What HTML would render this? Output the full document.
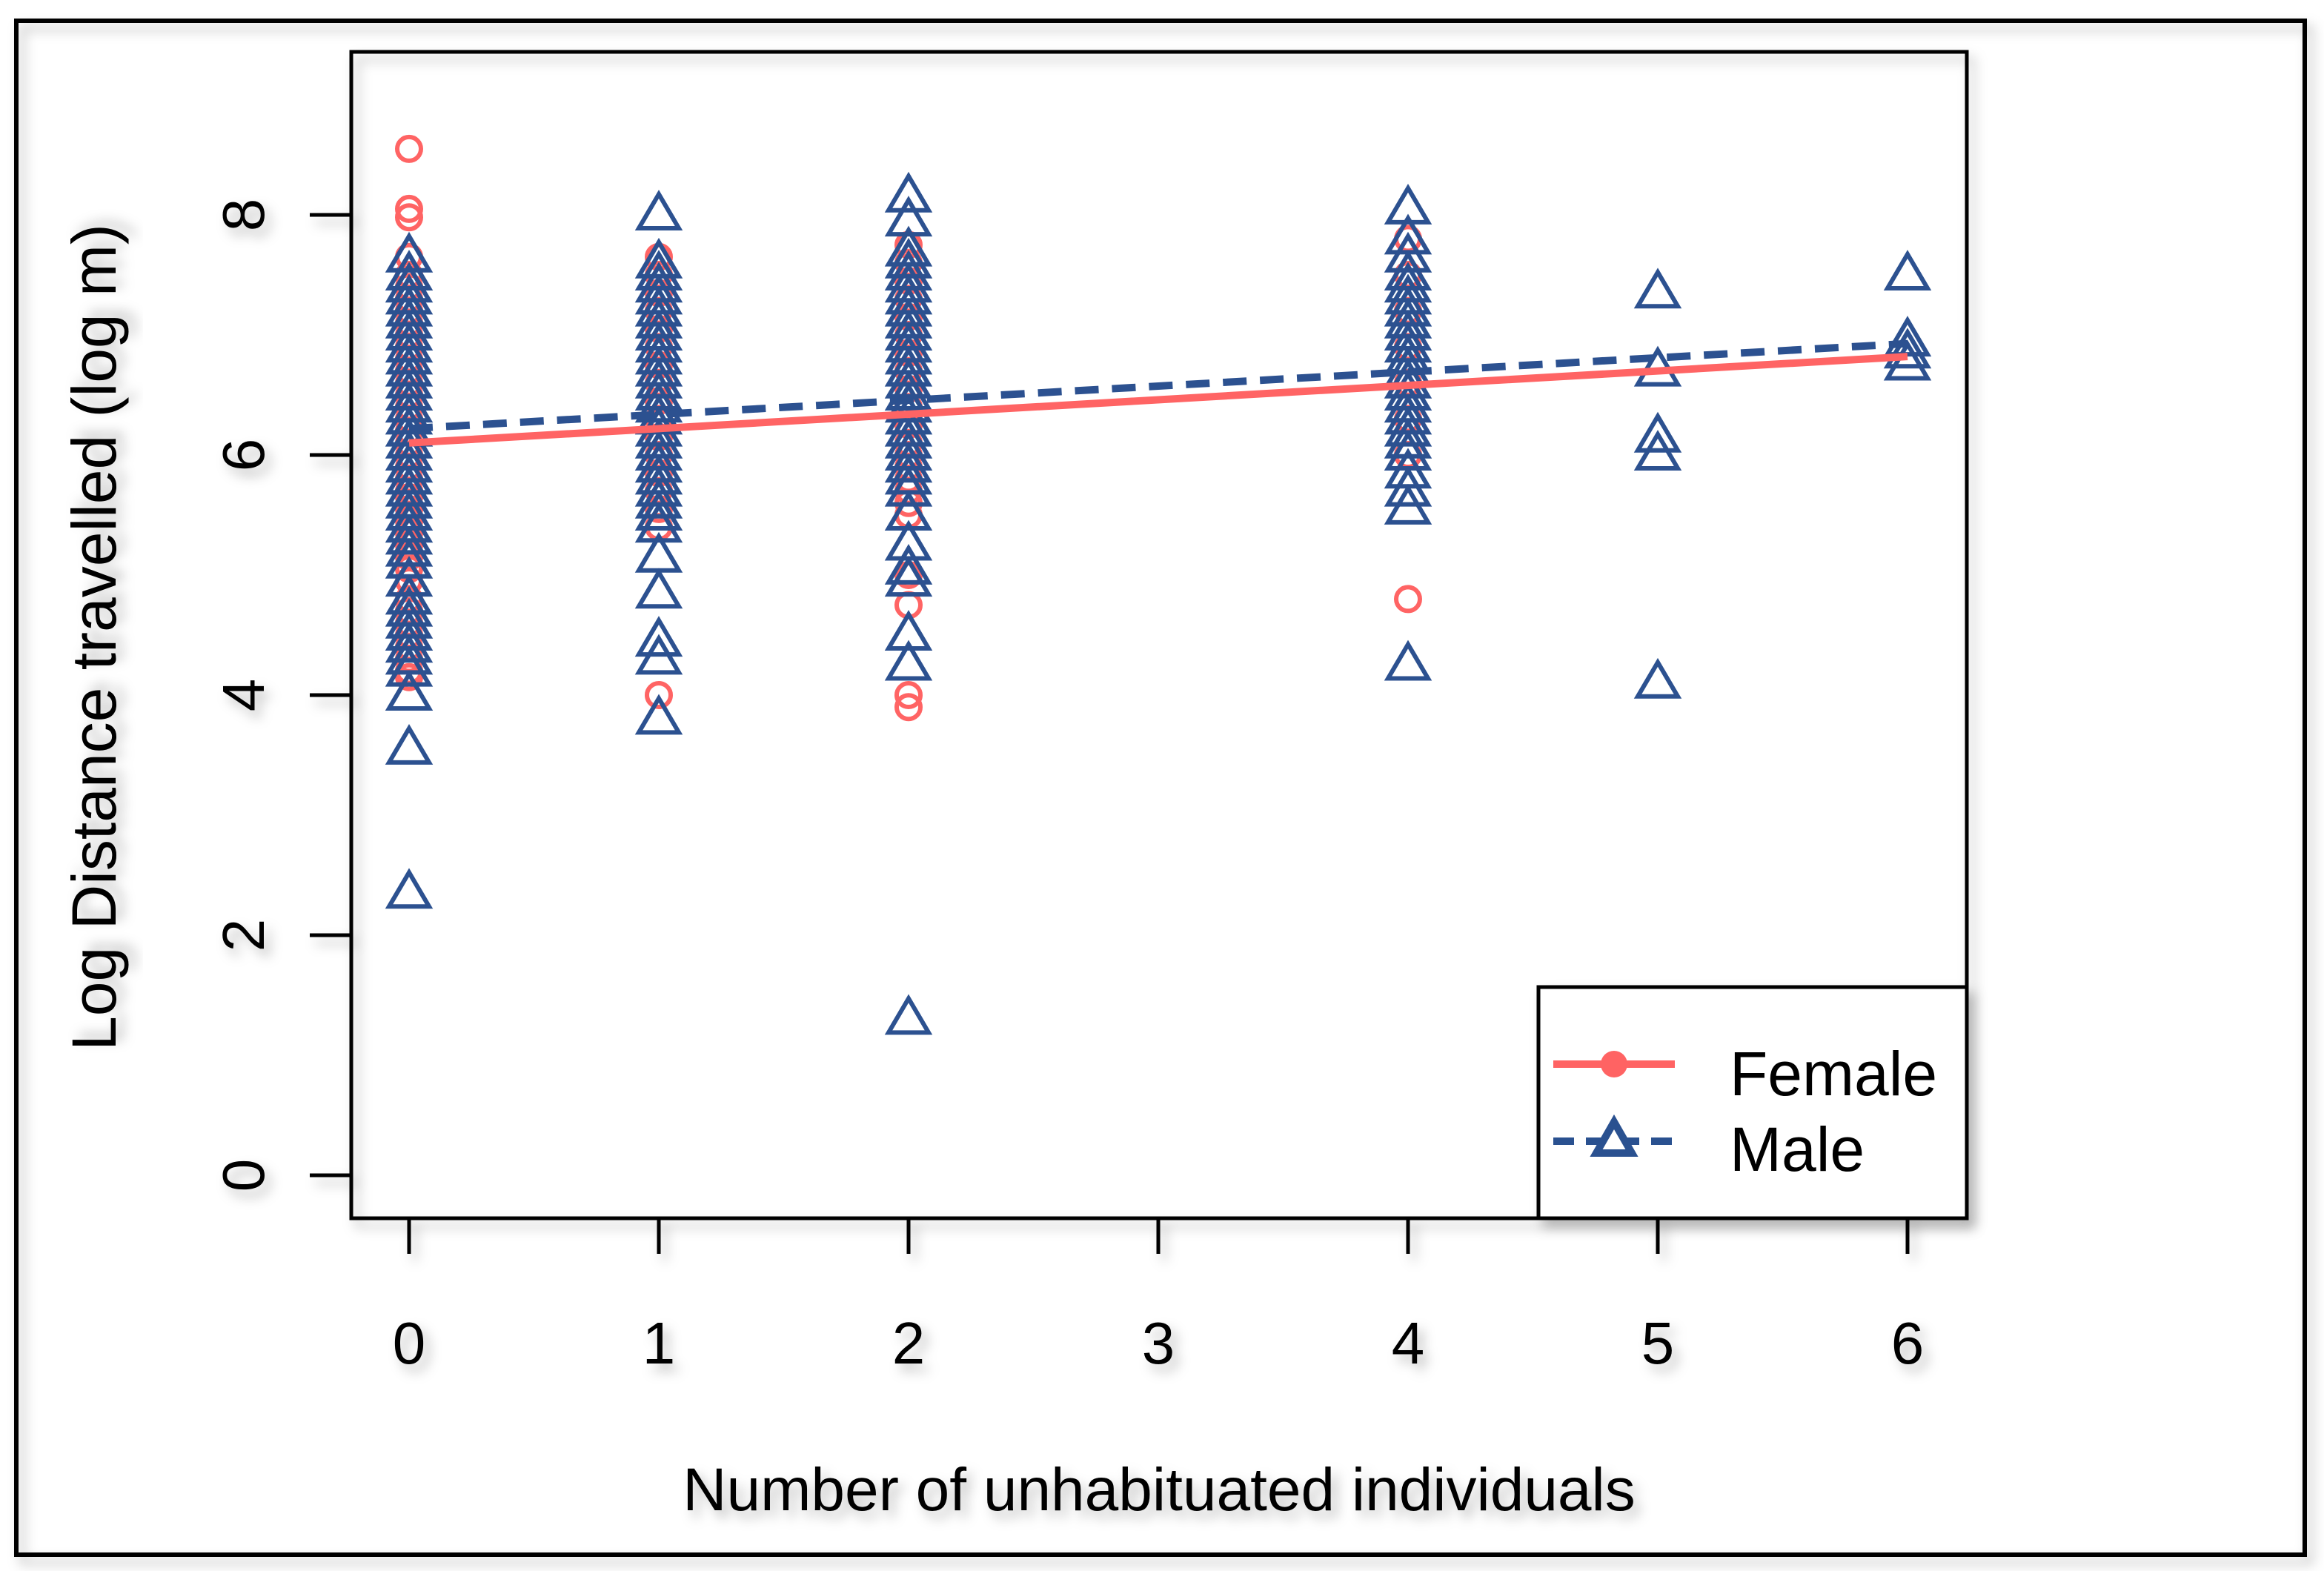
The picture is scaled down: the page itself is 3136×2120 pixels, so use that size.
<!DOCTYPE html>
<html><head><meta charset="utf-8"><style>
html,body{margin:0;padding:0;background:#fff;}
svg{display:block;font-family:"Liberation Sans",Arial,sans-serif;}
</style></head><body>
<svg id="chart" width="3136" height="2120" viewBox="0 0 1568 1060" xmlns="http://www.w3.org/2000/svg">
<defs>
<filter id="sh" x="-20%" y="-20%" width="140%" height="140%"><feDropShadow dx="4" dy="5" stdDeviation="4" flood-color="#000" flood-opacity="0.25"/></filter>
</defs>
<rect x="0" y="0" width="1568" height="1060" fill="#fff"/>
<rect x="11" y="14" width="1544" height="1035" fill="none" stroke="#000" stroke-width="3" filter="url(#sh)"/>
<rect x="237" y="35" width="1090" height="787" fill="none" stroke="#000" stroke-width="2.5" filter="url(#sh)"/>
<g id="axes" filter="url(#sh)"></g>
<g id="marks"></g>
<g id="fits"></g>
<text x="782" y="1019" font-size="41" text-anchor="middle" filter="url(#sh)">Number of unhabituated individuals</text>
<text transform="translate(78,430) rotate(-90)" font-size="42" text-anchor="middle" filter="url(#sh)">Log Distance travelled (log m)</text>
<g filter="url(#sh)">
<rect x="1038" y="666" width="289" height="156" fill="#fff" stroke="#000" stroke-width="2.5"/>
<line x1="1048" y1="718" x2="1130" y2="718" stroke="#ff6464" stroke-width="5"/>
<circle cx="1089" cy="718" r="9" fill="#ff6464"/>
<line x1="1048" y1="770" x2="1130" y2="770" stroke="#2c5190" stroke-width="5" stroke-dasharray="14,8"/>
<polygon points="1089,757 1101,778 1077,778" fill="#fff" stroke="#2c5190" stroke-width="5"/>
<text x="1167" y="739" font-size="42">Female</text>
<text x="1167" y="790" font-size="42">Male</text>
</g>
</svg>
<script>
const xTicks = [0,1,2,3,4,5,6];
const yTicks = [0,2,4,6,8];
const female0 = [8.55,8.05,7.98,7.65,7.5,7.4,7.3,7.2,7.1,7.0,6.9,6.8,6.7,6.6,6.5,6.4,6.3,6.2,6.1,6.0,5.9,5.8,5.7,5.65,5.55,5.45,5.35,5.25,5.15,5.05,4.95,4.8,4.7,4.6,4.5,4.4,4.3,4.2,4.15];
const male0 = [7.65,7.5,7.4,7.3,7.2,7.1,7.0,6.9,6.8,6.7,6.6,6.5,6.4,6.3,6.2,6.1,6.0,5.9,5.8,5.7,5.6,5.5,5.4,5.3,5.2,5.1,4.95,4.8,4.7,4.6,4.5,4.4,4.3,4.2,4.0,3.55,2.35];
const female1 = [7.65,7.5,7.35,7.2,7.05,6.9,6.75,6.6,6.45,6.3,6.15,6.0,5.85,5.7,5.55,5.4,4.0];
const male1 = [8.0,7.6,7.5,7.4,7.3,7.2,7.1,7.0,6.9,6.8,6.7,6.6,6.5,6.4,6.3,6.2,6.1,6.0,5.9,5.8,5.7,5.6,5.5,5.4,5.15,4.85,4.45,4.3,3.8];
const female2 = [7.75,7.6,7.45,7.3,7.15,7.0,6.85,6.7,6.55,6.4,6.25,6.1,6.0,5.9,5.8,5.7,5.6,5.5,5.0,4.75,4.0,3.9];
const male2 = [8.15,7.95,7.7,7.6,7.5,7.4,7.3,7.2,7.1,7.0,6.9,6.8,6.7,6.6,6.5,6.4,6.3,6.2,6.1,6.0,5.9,5.8,5.7,5.5,5.25,5.05,4.95,4.5,4.25,1.3];
const female4 = [7.8,7.5,7.2,6.9,6.6,6.3,6.0,4.8];
const male4 = [8.05,7.8,7.65,7.5,7.4,7.3,7.2,7.1,7.0,6.9,6.8,6.7,6.6,6.5,6.4,6.3,6.2,6.1,6.0,5.85,5.7,5.55,4.25];
const male5 = [7.35,6.7,6.15,6.0,4.1];
const male6 = [7.5,6.95,6.85,6.75];
const femaleFit = [6.1,0.12];
const maleFit = [6.22,0.118];
const femaleSeries = [[0,female0],[1,female1],[2,female2],[4,female4]];
const maleSeries = [[0,male0],[1,male1],[2,male2],[4,male4],[5,male5],[6,male6]];

const NS='http://www.w3.org/2000/svg';
function xs(v){return 276+v*168.5;}
function ys(v){return 793-v*81;}
function mk(tag,attrs,parent){const e=document.createElementNS(NS,tag);for(const k in attrs)e.setAttribute(k,attrs[k]);parent.appendChild(e);return e;}
const axes=document.getElementById('axes');
xTicks.forEach(t=>{
  const l=mk('line',{x1:xs(t),y1:822,x2:xs(t),y2:846,stroke:'#000','stroke-width':2.5},axes);
  
  
  const tx=mk('text',{x:xs(t),y:920,'font-size':40,'text-anchor':'middle'},axes);
  tx.textContent=t;
  
  
});
yTicks.forEach(t=>{
  const l=mk('line',{x1:209,y1:ys(t),x2:237,y2:ys(t),stroke:'#000','stroke-width':2.5},axes);
  
  
  const tx=mk('text',{transform:`translate(178,${ys(t)}) rotate(-90)`,'font-size':40,'text-anchor':'middle'},axes);
  tx.textContent=t;
  
  
});
const marks=document.getElementById('marks');
femaleSeries.forEach(([x,arr])=>arr.forEach(v=>{
  const c=mk('circle',{cx:xs(x),cy:ys(v),r:8,fill:'none',stroke:'#ff6464','stroke-width':3},marks);
  
  
}));
maleSeries.forEach(([x,arr])=>arr.forEach(v=>{
  const cx=xs(x),cy=ys(v);
  const p=mk('polygon',{points:`${cx},${cy-14} ${cx+13.5},${cy+9} ${cx-13.5},${cy+9}`,fill:'none',stroke:'#2c5190','stroke-width':3},marks);
  
  
}));
const fits=document.getElementById('fits');
const fl=mk('line',{x1:xs(0),y1:ys(femaleFit[0]),x2:xs(6),y2:ys(femaleFit[0]+6*femaleFit[1]),stroke:'#ff6464','stroke-width':5},fits);


const ml=mk('line',{x1:xs(0),y1:ys(maleFit[0]),x2:xs(6),y2:ys(maleFit[0]+6*maleFit[1]),stroke:'#2c5190','stroke-width':5,'stroke-dasharray':'16,9'},fits);


</script>
</body></html>
